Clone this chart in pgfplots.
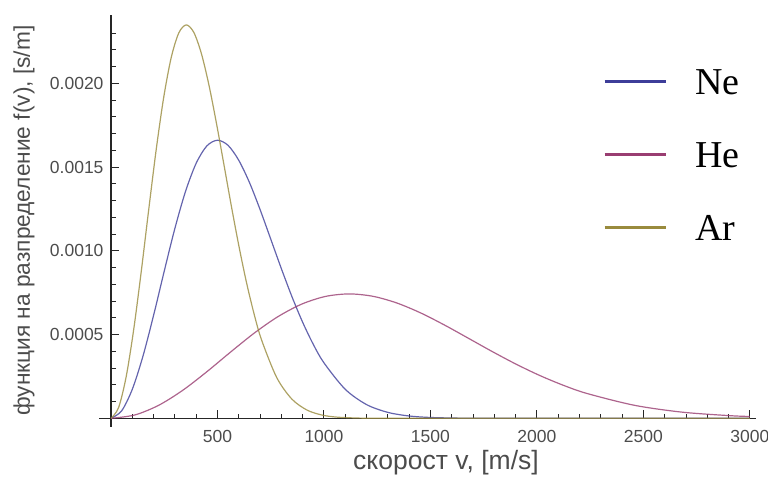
\documentclass[border=0pt]{standalone}
\usepackage{pgfplots}
\pgfplotsset{compat=1.18}
\usepackage{fontspec}
\setmainfont{Liberation Sans}
\newfontfamily\legfont{Liberation Serif}
\definecolor{neblue}{rgb}{0.24,0.24,0.6}
\definecolor{hered}{rgb}{0.6,0.24,0.442}
\definecolor{arolive}{rgb}{0.6,0.547,0.24}
\definecolor{labgray}{gray}{0.3}

\begin{document}
\begin{tikzpicture}
\useasboundingbox (-99.3pt,-51.3pt) rectangle (668.7pt,426.7pt);
\begin{axis}[
  at={(0pt,0pt)}, anchor=south west,
  scale only axis, width=657pt, height=412.1pt,
  axis lines=middle,
  axis line style={-, line width=1.1pt, black!85},
  xmin=-55, xmax=3030, ymin=-0.00005, ymax=0.00241,
  xtick={500,1000,...,3000},
  minor xtick={100,200,...,3000},
  ytick={0.0005,0.001,0.0015,0.002},
  minor ytick={0.0001,0.0002,0.0003,0.0004,0.0006,0.0007,0.0008,0.0009,0.0011,0.0012,0.0013,0.0014,0.0016,0.0017,0.0018,0.0019,0.0021,0.0022,0.0023},
  tick align=inside,
  major tick length=8pt, minor tick length=4.5pt,
  tick style={black!85, line width=1pt},
  scaled y ticks=false,
  /pgf/number format/1000 sep={},
  /pgf/number format/assume math mode=true,
  ticklabel style={font=\fontsize{17.5}{19}\selectfont, text=labgray},
  xticklabel style={yshift=-8pt},
  yticklabel style={xshift=-4pt, /pgf/number format/.cd, fixed, fixed zerofill, precision=4},
  xlabel={скорост v, [m/s]},
  ylabel={функция на разпределение f(v), [s/m]},
  every axis x label/.style={at={(axis description cs:0.5277,-0.088)}, anchor=center,
    font=\fontsize{26.5}{28}\selectfont, text=labgray},
  every axis y label/.style={at={(axis description cs:-0.1146,0.5)}, anchor=center, rotate=90,
    font=\fontsize{22.7}{24}\selectfont, text=labgray},
  legend style={draw=none, fill=none, at={(axis description cs:0.7667,0.868)}, anchor=north west,
    inner sep=0pt, outer sep=0pt, font=\legfont\fontsize{38}{40}\selectfont,
    nodes={inner sep=0pt, text height=26pt, text depth=0pt},
    column sep=28pt, row sep=47pt, cells={anchor=west}},
  legend image code/.code={\draw[#1, line width=3pt, opacity=1] (0pt,0pt) -- (61pt,0pt);},
]
% Ne
\addplot[neblue, line width=1.2pt, opacity=0.8, smooth] coordinates {
  (0,0) (50,0.0000447) (100,0.0001735) (150,0.000371) (200,0.000615)
  (250,0.000879) (300,0.001134) (350,0.001355) (400,0.001523) (450,0.001626)
  (500,0.001660) (550,0.001629) (600,0.001540) (650,0.001408) (700,0.001246)
  (750,0.001070) (800,0.000893) (850,0.000725) (900,0.000573) (950,0.000441)
  (1000,0.000331) (1100,0.000173) (1200,0.0000819) (1300,0.0000354)
  (1400,0.0000139) (1500,0.0000050) (1650,0.0000009) (1800,0.0000001)
  (2000,0) (3000,0)
};
\addlegendentry{Ne}
% He
\addplot[hered, line width=1.2pt, opacity=0.8, smooth] coordinates {
  (0,0) (111.8,0.00002) (223.6,0.0000776) (335.4,0.000166) (447.2,0.0002752)
  (559,0.000393) (670.8,0.000507) (782.6,0.000606) (894.4,0.0006812)
  (1006.2,0.0007274) (1118,0.0007426) (1229.8,0.0007284) (1341.6,0.0006887)
  (1453.4,0.0006295) (1565.2,0.0005573) (1677,0.0004787) (1788.8,0.0003995)
  (1900.6,0.0003242) (2012.4,0.0002561) (2124.2,0.0001971) (2236,0.0001479)
  (2459.6,0.0000773) (2683.2,0.0000366) (2906.8,0.0000158) (3000,0.0000109)
};
\addlegendentry{He}
% Ar
\addplot[arolive, line width=1.2pt, opacity=0.8, smooth] coordinates {
  (0,0) (35.35,0.0000632) (70.7,0.0002453) (106,0.0005251) (141.4,0.0008704)
  (176.8,0.001243) (212.1,0.0016034) (247.5,0.0019164) (282.8,0.0021543)
  (318.2,0.0023004) (353.5,0.0023485) (388.9,0.0023035) (424.2,0.0021781)
  (459.6,0.0019908) (494.9,0.0017626) (530.3,0.001514) (565.6,0.0012634)
  (601,0.0010253) (636.3,0.00081) (671.7,0.0006235) (707,0.0004677)
  (777.7,0.0002443) (848.4,0.0001159) (919.1,0.00005) (989.8,0.0000197)
  (1060.5,0.0000071) (1166.6,0.0000013) (1272.6,0.0000002) (1400,0) (3000,0)
};
\addlegendentry{Ar}
\end{axis}
\end{tikzpicture}
\end{document}
